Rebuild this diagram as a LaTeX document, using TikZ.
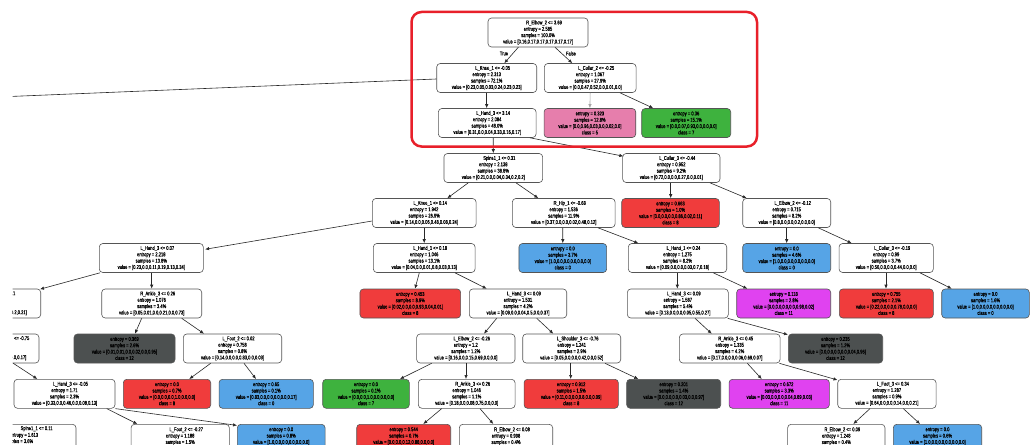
\documentclass[tikz,border=0pt]{standalone}
\usepackage{fontspec}
\newfontfamily\treefont[FakeStretch=0.74,FakeBold=0.35]{Liberation Sans}
\usetikzlibrary{arrows.meta,calc}

\definecolor{nodeBorder}{RGB}{85,85,85}
\definecolor{edgeInk}{RGB}{40,40,40}
\definecolor{frameRed}{RGB}{232,32,42}
\definecolor{leafPink}{RGB}{230,126,172}
\definecolor{leafGreen}{RGB}{62,178,62}
\definecolor{leafRed}{RGB}{240,60,60}
\definecolor{leafBlue}{RGB}{86,164,230}
\definecolor{leafMagenta}{RGB}{224,66,240}
\definecolor{leafDark}{RGB}{76,80,80}

\tikzset{
  tn/.style={draw=nodeBorder, line width=0.6pt, rounded corners=3.5pt, fill=white,
    align=center, inner sep=0pt, minimum height=29pt, text=black,
    font=\treefont\fontsize{5.5}{6.35}\selectfont},
  pinkleaf/.style={tn, fill=leafPink},
  greenleaf/.style={tn, fill=leafGreen},
  redleaf/.style={tn, fill=leafRed},
  blueleaf/.style={tn, fill=leafBlue},
  magleaf/.style={tn, fill=leafMagenta},
  darkleaf/.style={tn, fill=leafDark},
  edge/.style={draw=edgeInk, line width=0.6pt, -{Latex[length=4pt,width=3.4pt]}},
  plainedge/.style={draw=edgeInk, line width=0.6pt},
  lbl/.style={inner sep=0pt, font=\treefont\fontsize{5.5}{6.35}\selectfont},
  frag/.style={inner sep=0pt, anchor=east, text height=4pt, text depth=1.1pt,
    font=\treefont\fontsize{5.5}{6.35}\selectfont},
  redframe/.style={draw=frameRed, line width=2.5pt, rounded corners=10pt}
}
% split condition is set a little to the right of the other lines
\newcommand\cond[1]{\hspace*{12pt}#1}
% parent (bottom) to child (top) connector with horizontal offsets
\newcommand\tedge[4]{\draw[edge] ($(#1.south)+(#2,0)$) -- ($(#3.north)+(#4,0)$);}

\begin{document}
\begin{tikzpicture}[x=1pt,y=-1pt]
\useasboundingbox (0,0) rectangle (1035,444);
\fill[white] (0,0) rectangle (1035,444);
\begin{scope}
\clip (12.5,0) rectangle (1035,444);

% ---- level 0
\node[tn, minimum width=100pt] (root) at (538,32.5) {\cond{R\_Elbow\_2 <= 3.69}\\entropy = 2.585\\samples = 100.0\%\\value = [0.16,0.17,0.17,0.17,0.17,0.17]};
% ---- level 1
\node[tn, minimum width=100pt] (knee1) at (486.7,78) {\cond{L\_Knee\_1 <= -0.05}\\entropy = 2.313\\samples = 72.1\%\\value = [0.23,0.05,0.03,0.24,0.23,0.23]};
\node[tn, minimum width=91.7pt] (collar2) at (590.2,78) {\cond{L\_Collar\_2 <= -0.25}\\entropy = 1.067\\samples = 27.9\%\\value = [0.0,0.47,0.52,0.0,0.01,0.0]};
% ---- level 2
\node[tn, minimum width=97.7pt] (hand3a) at (487.2,123) {\cond{L\_Hand\_3 <= 3.14}\\entropy = 2.084\\samples = 48.0\%\\value = [0.31,0.0,0.04,0.33,0.16,0.17]};
\node[pinkleaf, minimum width=91.7pt] (pink) at (589.9,123) {entropy = 0.323\\samples = 12.8\%\\value = [0.0,0.96,0.03,0.0,0.02,0.0]\\class = 5};
\node[greenleaf, minimum width=89pt] (green) at (686.2,123) {entropy = 0.36\\samples = 15.1\%\\value = [0.0,0.07,0.93,0.0,0.0,0.0]\\class = 7};
% ---- level 3
\node[tn, minimum width=98.7pt] (spine) at (493.3,168) {\cond{Spine1\_1 <= 0.31}\\entropy = 2.138\\samples = 38.8\%\\value = [0.21,0.0,0.04,0.34,0.2,0.2]};
\node[tn, minimum width=97.3pt] (collar3a) at (671.3,168) {\cond{L\_Collar\_3 <= -0.44}\\entropy = 0.952\\samples = 9.2\%\\value = [0.72,0.0,0.0,0.27,0.0,0.01]};
% ---- level 4
\node[tn, minimum width=103.7pt] (knee1b) at (424.2,213) {\cond{L\_Knee\_1 <= 0.14}\\entropy = 1.942\\samples = 26.9\%\\value = [0.14,0.0,0.06,0.48,0.08,0.24]};
\node[tn, minimum width=102.7pt] (hip) at (563.7,213) {\cond{R\_Hip\_1 <= -0.68}\\entropy = 1.536\\samples = 11.9\%\\value = [0.37,0.0,0.0,0.02,0.48,0.12]};
\node[redleaf, minimum width=97.6pt] (red663) at (670.5,213) {entropy = 0.663\\samples = 1.0\%\\value = [0.0,0.0,0.0,0.86,0.02,0.11]\\class = 8};
\node[tn, minimum width=88pt] (elbow2a) at (786.7,213) {\cond{L\_Elbow\_2 <= -0.12}\\entropy = 0.715\\samples = 8.2\%\\value = [0.8,0.0,0.0,0.2,0.0,0.0]};
% ---- level 5
\node[tn, minimum width=104pt] (hand3b) at (151.3,258) {\cond{L\_Hand\_3 <= 0.07}\\entropy = 2.218\\samples = 13.8\%\\value = [0.23,0.0,0.11,0.19,0.13,0.34]};
\node[tn, minimum width=101.7pt] (hand1a) at (424.2,258) {\cond{L\_Hand\_1 <= 0.18}\\entropy = 1.046\\samples = 13.1\%\\value = [0.04,0.0,0.01,0.8,0.03,0.13]};
\node[blueleaf, minimum width=87.7pt] (blue37) at (562.8,258) {entropy = 0.0\\samples = 3.7\%\\value = [1.0,0.0,0.0,0.0,0.0,0.0]\\class = 0};
\node[tn, minimum width=98.4pt] (hand1b) at (677.5,258) {\cond{L\_Hand\_1 <= 0.24}\\entropy = 1.275\\samples = 8.2\%\\value = [0.09,0.0,0.0,0.03,0.7,0.18]};
\node[blueleaf, minimum width=88pt] (blue46) at (786.7,258) {entropy = 0.0\\samples = 4.6\%\\value = [1.0,0.0,0.0,0.0,0.0,0.0]\\class = 0};
\node[tn, minimum width=94.3pt] (collar3b) at (886.2,258) {\cond{L\_Collar\_3 <= -0.19}\\entropy = 0.99\\samples = 3.7\%\\value = [0.56,0.0,0.0,0.44,0.0,0.0]};
% ---- level 6
\node[tn, minimum width=100pt] (p1) at (-9.3,303.5) {};
\node[frag] (p1a) at (15.5,293.6) {0.1};
\node[frag] (p1b) at (27,312.7) {0.2,0.21]};
\node[tn, minimum width=100pt] (ankle3a) at (151.7,303.5) {\cond{R\_Ankle\_3 <= 0.26}\\entropy = 1.076\\samples = 3.4\%\\value = [0.05,0.01,0.0,0.21,0.0,0.73]};
\node[redleaf, minimum width=100.7pt] (red453) at (410.3,303.5) {entropy = 0.453\\samples = 8.9\%\\value = [0.02,0.0,0.0,0.93,0.04,0.01]\\class = 8};
\node[tn, minimum width=97.4pt] (hand3c) at (518,303.5) {\cond{L\_Hand\_3 <= 0.09}\\entropy = 1.531\\samples = 4.2\%\\value = [0.09,0.0,0.04,0.5,0.0,0.37]};
\node[tn, minimum width=101pt] (hand3d) at (677.8,303.5) {\cond{L\_Hand\_3 <= 0.09}\\entropy = 1.587\\samples = 5.4\%\\value = [0.13,0.0,0.0,0.05,0.55,0.27]};
\node[magleaf, minimum width=94pt] (mag118) at (783.7,303.5) {entropy = 0.118\\samples = 2.8\%\\value = [0.0,0.0,0.0,0.0,0.98,0.02]\\class = 11};
\node[redleaf, minimum width=94pt] (red755) at (886.3,303.5) {entropy = 0.755\\samples = 2.1\%\\value = [0.22,0.0,0.0,0.78,0.0,0.0]\\class = 8};
\node[blueleaf, minimum width=87.6pt] (blue16) at (985.5,303.5) {entropy = 0.0\\samples = 1.6\%\\value = [1.0,0.0,0.0,0.0,0.0,0.0]\\class = 0};
% ---- level 7
\node[tn, minimum width=100pt] (p2) at (-11,348.5) {};
\node[frag] (p2a) at (29.5,338.6) {<= -0.75};
\node[frag] (p2b) at (26.5,357.7) {0.0,0.17]};
\node[darkleaf, minimum width=101pt] (dark369) at (124.5,348.5) {entropy = 0.369\\samples = 2.6\%\\value = [0.01,0.01,0.0,0.02,0.0,0.95]\\class = 12};
\node[tn, minimum width=98.4pt] (foot2a) at (232.5,348.5) {\cond{L\_Foot\_2 <= 0.02}\\entropy = 0.758\\samples = 0.8\%\\value = [0.14,0.0,0.0,0.83,0.0,0.03]};
\node[tn, minimum width=98.3pt] (elbow2b) at (465.8,348.5) {\cond{L\_Elbow\_2 <= -0.26}\\entropy = 1.2\\samples = 1.2\%\\value = [0.16,0.0,0.15,0.69,0.0,0.0]};
\node[tn, minimum width=98pt] (shoulder) at (571.7,348.5) {\cond{L\_Shoulder\_3 <= -0.76}\\entropy = 1.241\\samples = 2.9\%\\value = [0.05,0.0,0.0,0.42,0.0,0.52]};
\node[tn, minimum width=100.7pt] (ankle3c) at (729.7,348.5) {\cond{R\_Ankle\_3 <= 0.45}\\entropy = 1.335\\samples = 4.2\%\\value = [0.17,0.0,0.0,0.06,0.69,0.07]};
\node[darkleaf, minimum width=94.4pt] (dark235) at (835.5,348.5) {entropy = 0.235\\samples = 1.2\%\\value = [0.0,0.0,0.0,0.0,0.04,0.96]\\class = 12};
% ---- level 8
\node[tn, minimum width=101pt] (hand3e) at (64.5,393.8) {\cond{L\_Hand\_3 <= -0.05}\\entropy = 1.71\\samples = 2.3\%\\value = [0.33,0.0,0.46,0.0,0.08,0.13]};
\node[redleaf, minimum width=87.4pt] (red00) at (167,393.8) {entropy = 0.0\\samples = 0.7\%\\value = [0.0,0.0,0.0,1.0,0.0,0.0]\\class = 8};
\node[blueleaf, minimum width=94.3pt] (blue65) at (266.2,393.8) {entropy = 0.65\\samples = 0.1\%\\value = [0.83,0.0,0.0,0.0,0.0,0.17]\\class = 0};
\node[greenleaf, minimum width=86.6pt] (green01) at (366,393.8) {entropy = 0.0\\samples = 0.1\%\\value = [0.0,0.0,1.0,0.0,0.0,0.0]\\class = 7};
\node[tn, minimum width=96.7pt] (ankle3b) at (466.7,393.8) {\cond{R\_Ankle\_3 <= 0.26}\\entropy = 1.046\\samples = 1.1\%\\value = [0.18,0.0,0.08,0.75,0.0,0.0]};
\node[redleaf, minimum width=94.3pt] (red912) at (571.2,393.8) {entropy = 0.912\\samples = 1.5\%\\value = [0.11,0.0,0.0,0.8,0.0,0.09]\\class = 8};
\node[darkleaf, minimum width=94pt] (dark201) at (673.7,393.8) {entropy = 0.201\\samples = 1.4\%\\value = [0.0,0.0,0.0,0.03,0.0,0.97]\\class = 12};
\node[magleaf, minimum width=100.3pt] (mag672) at (779.2,393.8) {entropy = 0.672\\samples = 3.3\%\\value = [0.03,0.0,0.0,0.04,0.89,0.03]\\class = 11};
\node[tn, minimum width=98.3pt] (foot3) at (886.9,393.8) {\cond{L\_Foot\_3 <= 0.34}\\entropy = 1.287\\samples = 0.9\%\\value = [0.64,0.0,0.0,0.14,0.0,0.21]};
% ---- level 9 (runs past the lower edge)
\node[tn, minimum width=98pt] (p3) at (27,438.8) {};
\node[frag] (p3a) at (52.7,428.7) {Spine1\_1 <= 0.11};
\node[frag] (p3b) at (38.3,435.3) {entropy = 1.613};
\node[frag] (p3c) at (33.3,441.6) {samples = 3.6\%};
\node[tn, minimum width=98.3pt] (foot2b) at (180.2,438.8) {\cond{L\_Foot\_2 <= -0.27}\\entropy = 1.188\\samples = 1.5\%\\\mbox{}};
\node[blueleaf, minimum width=87.7pt] (blue08) at (281.2,438.8) {entropy = 0.0\\samples = 0.8\%\\value = [1.0,0.0,0.0,0.0,0.0,0.0]\\\mbox{}};
\node[redleaf, minimum width=94pt] (red544) at (403.7,438.8) {entropy = 0.544\\samples = 0.7\%\\value = [0.0,0.0,0.12,0.88,0.0,0.0]\\\mbox{}};
\node[tn, minimum width=93.4pt] (elbow2c) at (506,438.8) {\cond{R\_Elbow\_2 <= 0.08}\\entropy = 0.998\\samples = 0.4\%\\\mbox{}};
\node[tn, minimum width=97.3pt] (elbow2d) at (836.3,438.8) {\cond{R\_Elbow\_2 <= 0.09}\\entropy = 1.248\\samples = 0.4\%\\\mbox{}};
\node[blueleaf, minimum width=88.4pt] (blue06) at (937.5,438.8) {entropy = 0.0\\samples = 0.6\%\\value = [1.0,0.0,0.0,0.0,0.0,0.0]\\\mbox{}};

% ---- connectors
\tedge{root}{-19.7}{knee1}{17.6}
\tedge{root}{17}{collar2}{-17.9}
\node[lbl] (ltrue) at (504,53.5) {True};
\node[lbl] (lfalse) at (571,53.5) {False};
\coordinate (offleft) at (0,96.9);
\draw[plainedge] ($(knee1.west)+(0,1)$) -- (offleft);
\tedge{knee1}{0}{hand3a}{-0.5}
\draw[edge, draw=black!35] (collar2.south) -- (pink.north);
\tedge{collar2}{29.8}{green}{-32.9}
\tedge{hand3a}{6}{spine}{0}
\draw[edge] ($(hand3a.south)+(42.8,0)$) -- ($(collar3a.north west)+(1,3)$);
\tedge{spine}{-25}{knee1b}{23.1}
\tedge{spine}{22.7}{hip}{-25.4}
\tedge{collar3a}{-0.6}{red663}{0.2}
\tedge{collar3a}{38.7}{elbow2a}{-40}
\draw[edge] ($(knee1b.west)+(0,8)$) -- ($(hand3b.east)+(1.5,-8.7)$);
\tedge{knee1b}{0}{hand1a}{0}
\tedge{hip}{-1}{blue37}{0}
\tedge{hip}{34.3}{hand1b}{-39.2}
\tedge{elbow2a}{0}{blue46}{0}
\tedge{elbow2a}{31.6}{collar3b}{-34.5}
\draw[edge] ($(hand3b.south west)+(1,0)$) -- ($(p1.north east)+(-1,0.5)$);
\tedge{hand3b}{0.4}{ankle3a}{0}
\tedge{hand1a}{-4.9}{red453}{4.7}
\tedge{hand1a}{30.8}{hand3c}{-31.3}
\tedge{hand1b}{-0.2}{hand3d}{-0.5}
\tedge{hand1b}{35.8}{mag118}{-36.4}
\tedge{collar3b}{-0.2}{red755}{-0.3}
\tedge{collar3b}{33.8}{blue16}{-33.8}
\tedge{ankle3a}{-10}{dark369}{10.5}
\tedge{ankle3a}{30}{foot2a}{-28.5}
\tedge{hand3c}{-21.3}{elbow2b}{18.2}
\tedge{hand3c}{18.7}{shoulder}{-18.4}
\tedge{hand3d}{17.2}{ankle3c}{-18}
\draw[edge] ($(hand3d.south east)+(-1,0)$) -- ($(dark235.north west)+(0,1)$);
\draw[edge] ($(p2.south east)+(-26,0)$) -- ($(hand3e.north)+(-27.2,0)$);
\tedge{foot2a}{-21.8}{red00}{22.3}
\tedge{foot2a}{11.5}{blue65}{-10.2}
\tedge{elbow2b}{-34.1}{green01}{34}
\tedge{elbow2b}{0.2}{ankle3b}{-0.7}
\tedge{shoulder}{-1}{red912}{-0.5}
\tedge{shoulder}{33.3}{dark201}{-35.4}
\tedge{ankle3c}{17.6}{mag672}{-17.5}
\draw[edge] ($(ankle3c.south east)+(-1,0)$) -- ($(foot3.north west)+(0,1)$);
\tedge{hand3e}{42.2}{foot2b}{-42.9}
\draw[edge] (hand3e.south east) -- ($(blue08.north west)+(0,1.4)$);
\tedge{ankle3b}{-25}{red544}{19.6}
\tedge{ankle3b}{13.3}{elbow2c}{-12.7}
\tedge{foot3}{-16.9}{elbow2d}{17}
\tedge{foot3}{16.4}{blue06}{-17.5}

% highlight round the top of the tree
\draw[redframe] (411.5,12) rectangle (757,146.5);
\end{scope}
\end{tikzpicture}
\end{document}
